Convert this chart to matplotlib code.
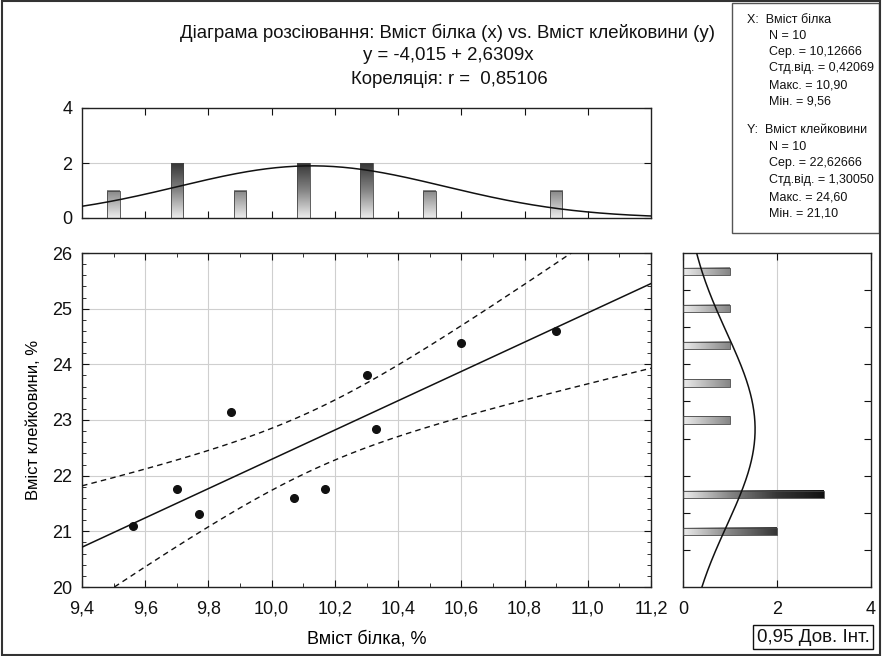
import numpy as np
import matplotlib
matplotlib.use("Agg")
import matplotlib.pyplot as plt
from matplotlib.patches import Rectangle
from matplotlib.colors import LinearSegmentedColormap
from matplotlib.ticker import MultipleLocator, FixedLocator, NullFormatter, FuncFormatter

plt.rcParams['font.family'] = ['Liberation Sans', 'DejaVu Sans']

# ---------------- data ----------------
protein = [9.56, 9.70, 9.77, 9.87, 10.07, 10.17, 10.30, 10.33, 10.60, 10.90]
gluten = [21.10, 21.76, 21.31, 23.14, 21.60, 21.76, 23.80, 22.84, 24.38, 24.60]

intercept = -4.015
slope = 2.6309
corr_r = 0.85106

x_n, x_mean, x_sd, x_max, x_min = 10, 10.12666, 0.42069, 10.90, 9.56
y_n, y_mean, y_sd, y_max, y_min = 10, 22.62666, 1.30050, 24.60, 21.10

top_bin_centers = [9.5, 9.7, 9.9, 10.1, 10.3, 10.5, 10.7, 10.9]
top_counts = [1, 2, 1, 2, 2, 1, 0, 1]
top_bin_width = 0.2

right_bin_centers = [21.25, 21.75, 22.25, 22.75, 23.25, 23.75, 24.25, 24.75]
right_counts = [2, 3, 0, 1, 1, 1, 1, 1]
right_bin_width = 0.5

x_ticks = [9.4, 9.6, 9.8, 10.0, 10.2, 10.4, 10.6, 10.8, 11.0, 11.2]
y_ticks = [20, 21, 22, 23, 24, 25, 26]

# ---------------- figure ----------------
W, H = 882, 656
fig = plt.figure(figsize=(W / 100, H / 100), dpi=100)

def fx(px):
    return px / W

def fy(py):
    return 1 - py / H

def axes_px(l, t, r, b):
    return fig.add_axes([fx(l), fy(b), (r - l) / W, (b - t) / H])

ax = axes_px(82, 253, 651, 587)
axt = axes_px(82, 108, 651, 218)
axr = axes_px(683, 253, 871, 587)

grad = LinearSegmentedColormap.from_list(
    "g", [(0, "#ececec"), (1 / 3, "#858585"), (2 / 3, "#363636"), (1, "#121212")])

comma = FuncFormatter(lambda v, p: f"{v:.1f}".replace(".", ","))
TICK_FS = 13

# ---- main scatter ----
px_arr = np.array(protein)
gy_arr = np.array(gluten)
xs = np.linspace(9.4, 11.2, 300)
yhat = intercept + slope * xs
res = gy_arr - (intercept + slope * px_arr)
s = np.sqrt(np.sum(res ** 2) / (len(px_arr) - 2))
sxx = np.sum((px_arr - px_arr.mean()) ** 2)
tcrit = 2.306
se = s * np.sqrt(1 / len(px_arr) + (xs - px_arr.mean()) ** 2 / sxx)

ax.plot(xs, yhat, color="#111111", lw=1.1, zorder=3)
ax.plot(xs, yhat + tcrit * se, color="#111111", lw=1.0, ls=(0, (4, 3)), zorder=3)
ax.plot(xs, yhat - tcrit * se, color="#111111", lw=1.0, ls=(0, (4, 3)), zorder=3)
ax.plot(protein, gluten, 'o', color="#111111", ms=5.5, zorder=4)

ax.set_xlim(9.4, 11.2)
ax.set_ylim(20, 26)
ax.xaxis.set_major_locator(FixedLocator(x_ticks))
ax.xaxis.set_minor_locator(MultipleLocator(0.1))
ax.yaxis.set_major_locator(FixedLocator(y_ticks))
ax.yaxis.set_minor_locator(MultipleLocator(0.2))
ax.xaxis.set_major_formatter(comma)
ax.grid(True, which="major", color="#cfcfcf", lw=0.8)
ax.set_axisbelow(True)
ax.tick_params(which="both", direction="in", top=True, right=True, labelsize=TICK_FS, colors="#111111")
ax.tick_params(which="major", length=5)
ax.tick_params(which="minor", length=3)
ax.tick_params(axis="x", pad=10)
ax.tick_params(axis="y", pad=7)
ax.set_xlabel("Вміст білка, %", fontsize=13, labelpad=9)
ax.set_ylabel("Вміст клейковини, %", fontsize=12, labelpad=8)

# ---- histograms (gradient bars) ----
def vbar(a, xc, w, h):
    if h <= 0:
        return
    grid = np.linspace(0, h, 200).reshape(-1, 1)
    a.imshow(grid, extent=[xc - w / 2, xc + w / 2, 0, h], origin="lower",
             cmap=grad, vmin=0, vmax=3, aspect="auto", zorder=2, interpolation="bilinear")
    a.add_patch(Rectangle((xc - w / 2, 0), w, h, fill=False, edgecolor="#444444", lw=0.6, zorder=3))

def hbar(a, yc, hgt, w):
    if w <= 0:
        return
    grid = np.linspace(0, w, 200).reshape(1, -1)
    a.imshow(grid, extent=[0, w, yc - hgt / 2, yc + hgt / 2], origin="lower",
             cmap=grad, vmin=0, vmax=3, aspect="auto", zorder=2, interpolation="bilinear")
    a.add_patch(Rectangle((0, yc - hgt / 2), w, hgt, fill=False, edgecolor="#444444", lw=0.6, zorder=3))

for c, n in zip(top_bin_centers, top_counts):
    vbar(axt, c, 0.04, n)
xt = np.linspace(9.4, 11.2, 300)
axt.plot(xt, x_n * top_bin_width / (x_sd * np.sqrt(2 * np.pi)) *
         np.exp(-0.5 * ((xt - x_mean) / x_sd) ** 2), color="#111111", lw=1.1, zorder=4)
axt.set_xlim(9.4, 11.2)
axt.set_ylim(0, 4)
axt.set_yticks([0, 2, 4])
axt.xaxis.set_major_locator(FixedLocator(x_ticks[1:-1]))
axt.xaxis.set_major_formatter(NullFormatter())
axt.axhline(2, color="#cfcfcf", lw=0.8, zorder=1)
axt.tick_params(direction="in", top=True, right=True, labelsize=TICK_FS, length=5, colors="#111111")
axt.tick_params(axis="y", pad=7)

for c, n in zip(right_bin_centers, right_counts):
    hbar(axr, c, 0.1, n)
yr = np.linspace(20.5, 25.0, 300)
axr.plot(y_n * right_bin_width / (y_sd * np.sqrt(2 * np.pi)) *
         np.exp(-0.5 * ((yr - y_mean) / y_sd) ** 2), yr, color="#111111", lw=1.1, zorder=4)
axr.set_xlim(0, 4)
axr.set_ylim(20.5, 25.0)
axr.set_xticks([0, 2, 4])
axr.yaxis.set_major_locator(FixedLocator([21.0, 21.5, 22.0, 22.5, 23.0, 23.5, 24.0, 24.5]))
axr.yaxis.set_major_formatter(NullFormatter())
axr.axvline(2, color="#cfcfcf", lw=0.8, zorder=1)
axr.tick_params(direction="in", top=True, right=True, labelsize=TICK_FS, length=5, colors="#111111")
axr.tick_params(axis="x", pad=10)

for a in (ax, axt, axr):
    for sp in a.spines.values():
        sp.set_color("#222222")
        sp.set_linewidth(1.0)

# ---- titles ----
TFS = 13.4
fig.text(fx(448), fy(33), "Діаграма розсіювання: Вміст білка (x) vs. Вміст клейковини (y)",
         ha="center", va="center", fontsize=TFS, color="#111111")
fig.text(fx(448), fy(56), "y = -4,015 + 2,6309x", ha="center", va="center", fontsize=TFS, color="#111111")
fig.text(fx(449), fy(79), "Кореляція: r =  0,85106", ha="center", va="center", fontsize=TFS, color="#111111")

# ---- stats box ----
fig.patches.append(Rectangle((fx(732), fy(233)), (879 - 732) / W, (233 - 3) / H,
                             transform=fig.transFigure, fill=False, edgecolor="#555555", lw=1.0))
def fmt(v, d):
    return f"{v:.{d}f}".replace(".", ",")

stat_lines = [("X:  Вміст білка", 747, 20),
              (f"N = {x_n}", 769, 36),
              (f"Сер. = {fmt(x_mean, 5)}", 769, 52),
              (f"Стд.від. = {fmt(x_sd, 5)}", 769, 68),
              (f"Макс. = {fmt(x_max, 2)}", 769, 85),
              (f"Мін. = {fmt(x_min, 2)}", 769, 101),
              ("Y:  Вміст клейковини", 747, 130),
              (f"N = {y_n}", 769, 147),
              (f"Сер. = {fmt(y_mean, 5)}", 769, 163),
              (f"Стд.від. = {fmt(y_sd, 5)}", 769, 180),
              (f"Макс. = {fmt(y_max, 2)}", 769, 197),
              (f"Мін. = {fmt(y_min, 2)}", 769, 213)]
for t, x0, y0 in stat_lines:
    fig.text(fx(x0), fy(y0), t, ha="left", va="center", fontsize=9, color="#111111")

# ---- CI legend ----
fig.text(fx(813), fy(637), "0,95 Дов. Інт.", ha="center", va="center", fontsize=13.5, color="#111111",
         bbox=dict(boxstyle="square,pad=0.2", facecolor="white", edgecolor="#111111", lw=1.0))

# ---- outer border ----
fig.patches.append(Rectangle((0.002, 0.002), 0.996, 0.996, transform=fig.transFigure,
                             fill=False, edgecolor="#333333", lw=1.5))

fig.savefig("out.png", dpi=100)
